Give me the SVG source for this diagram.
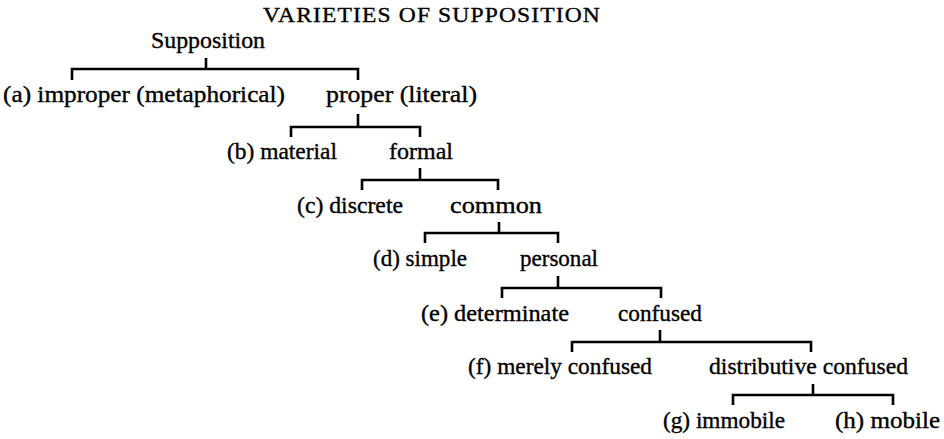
<svg xmlns="http://www.w3.org/2000/svg" width="944" height="439" viewBox="0 0 944 439">
<style>
text{font-family:"Liberation Serif","Times New Roman",serif;font-size:23px;fill:#000;stroke:#000;stroke-width:0.35}
.title{font-size:21px;letter-spacing:1px}
.c path{fill:none;stroke:#000;stroke-width:2.6}
</style>
<rect width="944" height="439" fill="#fff"/>
<g id="title"><text class="title" x="263" y="22" textLength="338" lengthAdjust="spacingAndGlyphs">VARIETIES OF SUPPOSITION</text></g>
<g id="n-supposition"><text x="151" y="48" textLength="114" lengthAdjust="spacingAndGlyphs">Supposition</text></g>
<g id="n-a"><text x="3" y="102" textLength="282" lengthAdjust="spacingAndGlyphs">(a) improper (metaphorical)</text></g>
<g id="n-proper"><text x="326" y="102" textLength="151" lengthAdjust="spacingAndGlyphs">proper (literal)</text></g>
<g id="n-b"><text x="227" y="159" textLength="110" lengthAdjust="spacingAndGlyphs">(b) material</text></g>
<g id="n-formal"><text x="389" y="159" textLength="64" lengthAdjust="spacingAndGlyphs">formal</text></g>
<g id="n-c"><text x="297" y="213" textLength="106" lengthAdjust="spacingAndGlyphs">(c) discrete</text></g>
<g id="n-common"><text x="450" y="213" textLength="92" lengthAdjust="spacingAndGlyphs">common</text></g>
<g id="n-d"><text x="373" y="266" textLength="94" lengthAdjust="spacingAndGlyphs">(d) simple</text></g>
<g id="n-personal"><text x="520" y="266" textLength="78" lengthAdjust="spacingAndGlyphs">personal</text></g>
<g id="n-e"><text x="421" y="321" textLength="148" lengthAdjust="spacingAndGlyphs">(e) determinate</text></g>
<g id="n-confused"><text x="618" y="321" textLength="84" lengthAdjust="spacingAndGlyphs">confused</text></g>
<g id="n-f"><text x="468" y="374" textLength="184" lengthAdjust="spacingAndGlyphs">(f) merely confused</text></g>
<g id="n-distributive"><text x="709" y="374" textLength="199" lengthAdjust="spacingAndGlyphs">distributive confused</text></g>
<g id="n-g"><text x="663" y="428" textLength="122" lengthAdjust="spacingAndGlyphs">(g) immobile</text></g>
<g id="n-h"><text x="835" y="428" textLength="105" lengthAdjust="spacingAndGlyphs">(h) mobile</text></g>
<g id="connectors" class="c">
<path d="M206 58V69M72 80V69H358V80"/>
<path d="M358 114V127M291 137V127H420V137"/>
<path d="M420 168V180M362 190V180H498V190"/>
<path d="M499 222V233M425 243V233H558V243"/>
<path d="M558 276V288M502 298V288H661V298"/>
<path d="M660 330V342M572 352V342H811V352"/>
<path d="M813 384V395M733 405V395H893V405"/>
</g>
</svg>
